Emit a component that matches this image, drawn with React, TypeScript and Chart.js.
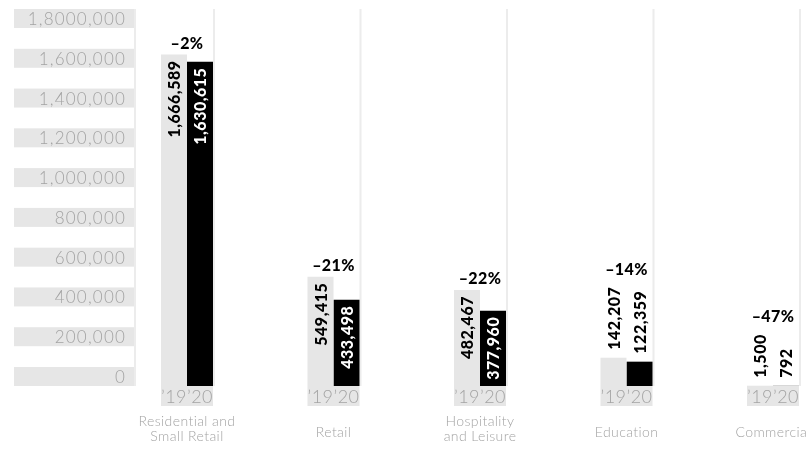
import React, { useEffect, useRef } from "react";
import { Chart, registerables } from "chart.js";

Chart.register(...registerables);

// ---- data ----
const categories: string[][] = [
  ["Residential and", "Small Retail"],
  ["Retail"],
  ["Hospitality", "and Leisure"],
  ["Education"],
  ["Commercial"],
];
const values2019 = [1666589, 549415, 482467, 142207, 1500];
const values2020 = [1630615, 433498, 377960, 122359, 792];
const yearLabels = ["\u201919", "\u201920"];
const yTickValues = [0, 200000, 400000, 600000, 800000, 1000000, 1200000, 1400000, 1600000, 1800000];
const yTickLabels = ["0", "200,000", "400,000", "600,000", "800,000", "1,000,000", "1,200,000", "1,400,000", "1,600,000", "1,8000,000"];

// ---- styles ----
const GREY = "#e6e6e6";
const LINE = "#ececec";
const BLACK = "#000000";
const TEXT_GREY = "#a3a3a3";
const LIGHT_FONT = '"Lato", "Open Sans", sans-serif';
const BOLD_FONT = '"Lato", "DejaVu Sans", sans-serif';
const AXIS_BOX_LEFT = 14;
const AXIS_BOX_RIGHT = 134;
const AXIS_BOX_H = 19;

const fmt = (v: number) => v.toLocaleString("en-US");
const pct = (a: number, b: number) => {
  const p = Math.round(((b - a) / a) * 100);
  return (p < 0 ? "\u2013" : "+") + Math.abs(p) + "%";
};

const overlay = {
  id: "overlay",
  beforeDatasetsDraw(chart: any) {
    const { ctx, scales } = chart;
    const y = scales.y;
    const zero = y.getPixelForValue(0);
    const topLine = y.getPixelForValue(yTickValues[yTickValues.length - 1]) - AXIS_BOX_H;
    const m0 = chart.getDatasetMeta(0);
    const m1 = chart.getDatasetMeta(1);
    ctx.save();
    // y axis boxes and labels
    ctx.font = `300 17px ${LIGHT_FONT}`;
    (ctx as any).letterSpacing = "1.2px";
    ctx.textAlign = "right";
    ctx.textBaseline = "middle";
    yTickValues.forEach((v, i) => {
      const py = y.getPixelForValue(v);
      ctx.fillStyle = GREY;
      ctx.fillRect(AXIS_BOX_LEFT, py - AXIS_BOX_H, AXIS_BOX_RIGHT - AXIS_BOX_LEFT, AXIS_BOX_H);
      ctx.fillStyle = TEXT_GREY;
      ctx.fillText(yTickLabels[i], AXIS_BOX_RIGHT - 8, py - AXIS_BOX_H / 2 + 1);
    });
    // vertical lines
    ctx.strokeStyle = LINE;
    ctx.lineWidth = 2;
    const xs = [AXIS_BOX_RIGHT + 1, ...m1.data.map((b: any) => b.x + b.width / 2 + 1)];
    xs.forEach((x) => {
      ctx.beginPath();
      ctx.moveTo(x, topLine);
      ctx.lineTo(x, zero);
      ctx.stroke();
    });
    // year boxes
    ctx.fillStyle = GREY;
    m0.data.forEach((b0: any, i: number) => {
      const b1 = m1.data[i];
      const l = b0.x - b0.width / 2;
      const r = b1.x + b1.width / 2;
      ctx.fillRect(l, zero, r - l, 20);
    });
    ctx.restore();
  },
  afterDatasetsDraw(chart: any) {
    const { ctx, scales } = chart;
    const y = scales.y;
    const zero = y.getPixelForValue(0);
    const metas = [chart.getDatasetMeta(0), chart.getDatasetMeta(1)];
    const series = [values2019, values2020];
    ctx.save();
    // year labels
    ctx.font = `300 18px ${LIGHT_FONT}`;
    (ctx as any).letterSpacing = "0.5px";
    ctx.fillStyle = TEXT_GREY;
    ctx.textAlign = "center";
    ctx.textBaseline = "middle";
    metas.forEach((m, d) => {
      m.data.forEach((b: any) => {
        ctx.fillText(yearLabels[d], b.x, zero + 11);
      });
    });
    // value labels
    ctx.font = `900 16px ${BOLD_FONT}`;
    (ctx as any).letterSpacing = "0.5px";
    const tops: number[] = values2019.map(() => Infinity);
    const outside: boolean[] = values2019.map(() => false);
    metas.forEach((m, d) => {
      m.data.forEach((b: any, i: number) => {
        const txt = fmt(series[d][i]);
        const w = ctx.measureText(txt).width;
        const h = b.base - b.y;
        ctx.save();
        ctx.translate(b.x, b.y);
        ctx.rotate(-Math.PI / 2);
        ctx.textBaseline = "middle";
        if (w + 6 < h) {
          ctx.textAlign = "right";
          ctx.fillStyle = d === 0 ? BLACK : "#ffffff";
          ctx.fillText(txt, -6, 1);
          tops[i] = Math.min(tops[i], b.y);
        } else {
          ctx.textAlign = "left";
          ctx.fillStyle = BLACK;
          ctx.fillText(txt, 8, 1);
          tops[i] = Math.min(tops[i], b.y - 8 - w);
          outside[i] = true;
        }
        ctx.restore();
      });
    });
    // percentage labels
    ctx.font = `900 16px ${BOLD_FONT}`;
    (ctx as any).letterSpacing = "0.4px";
    ctx.fillStyle = BLACK;
    ctx.textAlign = "center";
    ctx.textBaseline = "alphabetic";
    metas[0].data.forEach((b0: any, i: number) => {
      const b1 = metas[1].data[i];
      const cx = (b0.x + b1.x) / 2;
      ctx.fillText(pct(values2019[i], values2020[i]), cx, tops[i] - (outside[i] ? 12 : 6));
    });
    // category labels
    ctx.font = `300 14px ${LIGHT_FONT}`;
    (ctx as any).letterSpacing = "0.4px";
    ctx.fillStyle = TEXT_GREY;
    ctx.textBaseline = "middle";
    metas[0].data.forEach((b0: any, i: number) => {
      const b1 = metas[1].data[i];
      const cx = (b0.x + b1.x) / 2;
      const lines = categories[i];
      const start = zero + 46.5 - (lines.length - 1) * 11.5;
      lines.forEach((ln, k) => ctx.fillText(ln, cx, start + k * 15));
    });
    ctx.restore();
  },
};

export default function App() {
  const ref = useRef<HTMLCanvasElement>(null);
  useEffect(() => {
    document.body.style.margin = "0";
    const chart = new Chart(ref.current!, {
      type: "bar",
      data: {
        labels: categories.map((c) => c.join(" ")),
        datasets: [
          { label: "2019", data: values2019, backgroundColor: GREY, clip: false as any },
          { label: "2020", data: values2020, backgroundColor: BLACK, clip: false as any },
        ],
      },
      options: {
        animation: false,
        responsive: false,
        maintainAspectRatio: false,
        layout: { padding: { left: 187, right: 35, top: 28, bottom: 64 } },
        datasets: { bar: { categoryPercentage: 0.355, barPercentage: 1 } },
        plugins: { legend: { display: false }, tooltip: { enabled: false } },
        scales: {
          x: { display: false, offset: false, grid: { display: false } },
          y: { display: false, min: 0, max: 1800000 },
        },
      },
      plugins: [overlay],
    });
    return () => chart.destroy();
  }, []);
  return (
    <div style={{ width: 808, height: 450 }}>
      <canvas ref={ref} width={808} height={450} style={{ display: "block" }} />
    </div>
  );
}
